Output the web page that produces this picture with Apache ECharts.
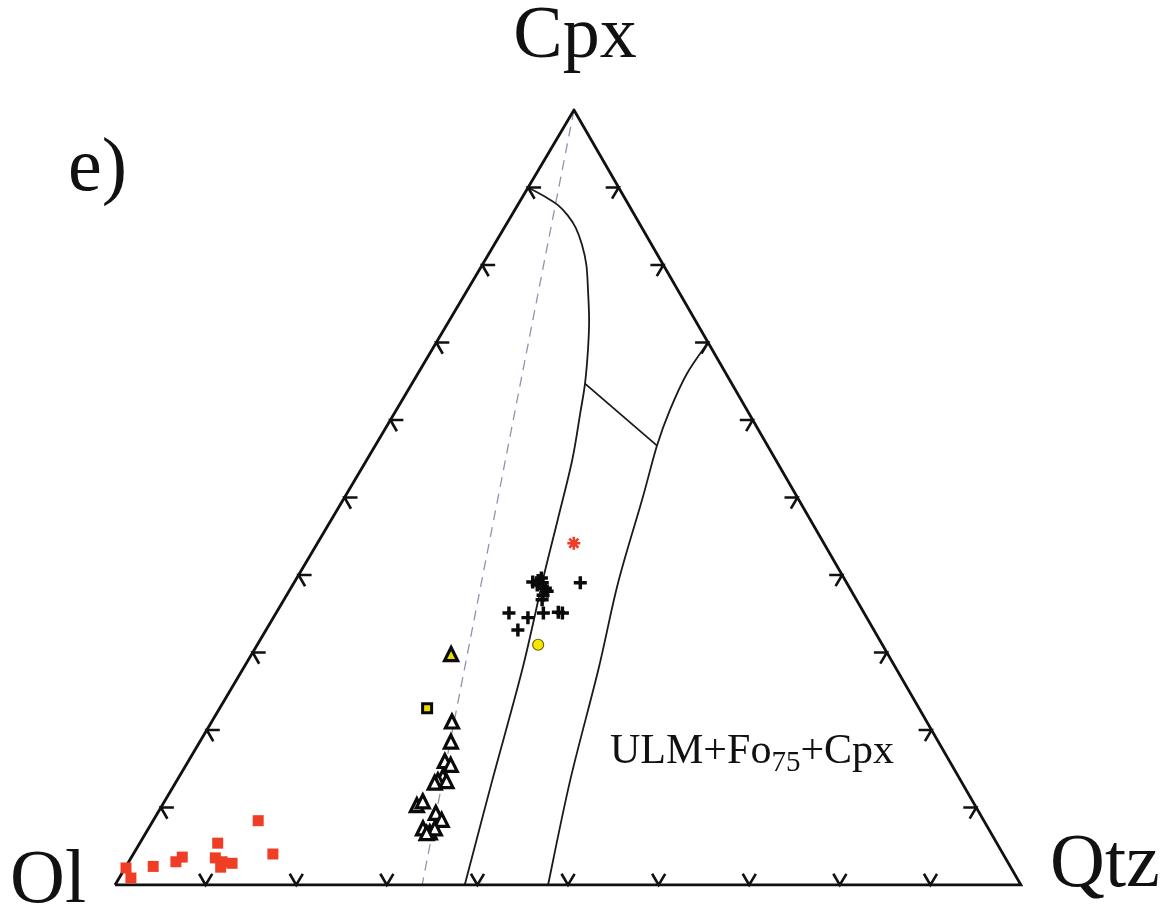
<!DOCTYPE html>
<html><head><meta charset="utf-8">
<script src="https://cdn.jsdelivr.net/npm/echarts@6/dist/echarts.min.js"></script>
<style>html,body{margin:0;padding:0;background:#fff}#c{width:1172px;height:919px}</style>
</head><body><div id="c"></div><script>
// All compositions are ternary [Ol, Qtz, Cpx] in percent
const vertexLabels = ['Ol', 'Qtz', 'Cpx'];
const panelLabel = 'e)';
const tickValues = [10, 20, 30, 40, 50, 60, 70, 80, 90];

const redSquares = [
  [97.7, 0.1, 2.2], [97.8, 1.3, 0.9], [94.6, 3.0, 2.4], [91.8, 5.2, 3.0], [90.8, 5.6, 3.6],
  [86.0, 8.6, 5.4], [87.2, 9.3, 3.5], [86.7, 10.3, 3.0], [87.2, 10.5, 2.3], [85.7, 11.5, 2.8],
  [80.1, 11.6, 8.3], [80.6, 15.4, 4.0]
];
const openTriangles = [
  [52.4, 26.5, 21.1], [53.8, 27.7, 18.5], [55.7, 28.3, 16.0], [55.3, 29.2, 15.5],
  [56.9, 29.1, 14.0], [57.7, 28.8, 13.5], [58.2, 28.6, 13.2], [56.8, 29.8, 13.4],
  [61.6, 28.1, 10.3], [60.7, 28.5, 10.8], [60.0, 30.7, 9.3], [59.8, 31.8, 8.4],
  [62.4, 30.3, 7.3], [61.9, 31.3, 6.8], [61.1, 31.6, 7.3], [62.3, 31.0, 6.7]
];
const yellowTriangle = [[48.2, 22.0, 29.8]];
const yellowSquare = [[54.3, 22.9, 22.8]];
const crosses = [
  [39.2, 25.7, 35.1], [39.3, 27.8, 32.9], [37.4, 28.1, 34.5], [35.4, 29.5, 35.1],
  [33.7, 31.1, 35.2], [33.3, 31.6, 35.1], [29.4, 31.6, 39.0],
  [34.6, 26.3, 39.1], [33.9, 26.8, 39.3], [33.6, 27.4, 39.0], [33.6, 28.1, 38.3],
  [33.6, 28.5, 37.9], [34.3, 28.3, 37.4], [34.7, 28.5, 36.8], [34.3, 27.0, 38.7],
  [33.4, 27.0, 39.6]
];
const redAsterisk = [[27.6, 28.3, 44.1]];
const yellowCircle = [[38.0, 31.0, 31.0]];

const dashedJoin = [[0, 0, 100], [66.1, 33.9, 0]];
const boundaryLeft = [
  [10.0, 0.0, 90.0], [8.7, 2.5, 88.8], [7.8, 4.5, 87.7], [7.4, 6.2, 86.4], [7.3, 7.9, 84.8],
  [7.7, 9.7, 82.6], [8.5, 11.5, 80.0], [9.9, 13.3, 76.8], [11.7, 15.4, 72.9], [13.7, 17.2, 69.1],
  [16.2, 19.1, 64.7], [18.6, 20.5, 60.9], [22.5, 22.7, 54.8], [27.9, 25.0, 47.1], [33.4, 27.3, 39.3],
  [41.4, 30.9, 27.7], [51.7, 34.8, 13.5], [61.4, 38.6, 0.0]
];
const boundaryTie = [[16.2, 19.1, 64.7], [12.2, 31.1, 56.7]];
const boundaryRight = [
  [0.0, 30.0, 70.0], [4.3, 29.7, 66.0], [8.5, 30.2, 61.3], [12.2, 31.1, 56.7], [17.3, 33.0, 49.7],
  [25.3, 35.8, 38.9], [33.0, 39.3, 27.7], [43.1, 43.4, 13.5], [52.2, 47.8, 0.0]
];
const fieldLabel = ['ULM+Fo', '75', '+Cpx'];

// --- projection of ternary composition to the (hidden) cartesian axes ---
const apexShift = 0.5066;
function toXY(t) { return [t[1] + t[2] * apexShift, t[2]]; }
const proj = arr => arr.map(toXY);

const outline = proj([[100, 0, 0], [0, 100, 0], [0, 0, 100], [100, 0, 0]]);
const tickData = [];
tickValues.forEach(v => {
  tickData.push(toXY([100 - v, v, 0]).concat([0]));
  tickData.push(toXY([100 - v, 0, v]).concat([1]));
  tickData.push(toXY([0, 100 - v, v]).concat([2]));
});
const curves = [boundaryLeft, boundaryRight];
const curveData = curves.map((c, i) => toXY(c[0]).concat([i]));

function unit(p, q) { const dx = q[0] - p[0], dy = q[1] - p[1]; const l = Math.hypot(dx, dy); return [dx / l, dy / l]; }
// Catmull-Rom through the pixel points, as an SVG path
function splinePath(p) {
  let d = 'M' + p[0][0].toFixed(2) + ',' + p[0][1].toFixed(2);
  for (let i = 0; i < p.length - 1; i++) {
    const p0 = p[Math.max(i - 1, 0)], p1 = p[i], p2 = p[i + 1], p3 = p[Math.min(i + 2, p.length - 1)];
    const c1 = [p1[0] + (p2[0] - p0[0]) / 6, p1[1] + (p2[1] - p0[1]) / 6];
    const c2 = [p2[0] - (p3[0] - p1[0]) / 6, p2[1] - (p3[1] - p1[1]) / 6];
    d += 'C' + c1[0].toFixed(2) + ',' + c1[1].toFixed(2) + ' ' + c2[0].toFixed(2) + ',' + c2[1].toFixed(2) + ' ' + p2[0].toFixed(2) + ',' + p2[1].toFixed(2);
  }
  return d;
}

const serif = '"Liberation Serif", "Times New Roman", serif';
const chart = echarts.init(document.getElementById('c'), null, { renderer: 'canvas' });
const lineBase = { type: 'line', symbol: 'none', silent: true, animation: false };
const red = '#f03d26';

chart.setOption({
  animation: false,
  backgroundColor: '#fff',
  grid: { left: 115, top: 110, width: 906, height: 775 },
  xAxis: { type: 'value', min: 0, max: 100, show: false },
  yAxis: { type: 'value', min: 0, max: 100, show: false },
  series: [
    Object.assign({}, lineBase, { name: 'dashed', data: proj(dashedJoin), z: 1,
      lineStyle: { color: '#8a95b0', width: 1.3, type: [10, 7] } }),
    {
      type: 'custom', name: 'boundaries', coordinateSystem: 'cartesian2d', silent: true, z: 2,
      data: curveData,
      renderItem: function (params, api) {
        const pts = curves[api.value(2)].map(t => api.coord(toXY(t)));
        return { type: 'path', shape: { pathData: splinePath(pts) },
          style: { stroke: '#1a1a1a', lineWidth: 1.8, fill: 'none' } };
      }
    },
    Object.assign({}, lineBase, { name: 'boundaryTie', data: proj(boundaryTie), z: 2,
      lineStyle: { color: '#1a1a1a', width: 1.8 } }),
    Object.assign({}, lineBase, { name: 'outline', data: outline, z: 3,
      lineStyle: { color: '#111', width: 2.8, join: 'miter' } }),
    {
      type: 'custom', name: 'ticks', coordinateSystem: 'cartesian2d', silent: true, z: 3,
      data: tickData,
      renderItem: function (params, api) {
        const P = api.coord([api.value(0), api.value(1)]);
        const A = api.coord(toXY([100, 0, 0])), B = api.coord(toXY([0, 100, 0])), C = api.coord(toXY([0, 0, 100]));
        const e = api.value(2);
        let d1, d2;
        if (e === 0) { d1 = unit(A, C); d2 = unit(B, C); }
        else if (e === 1) { d1 = unit(A, B); d2 = unit(C, B); }
        else { d1 = unit(B, A); d2 = unit(C, A); }
        const L = 13;
        return {
          type: 'polyline',
          shape: { points: [[P[0] + L * d1[0], P[1] + L * d1[1]], P, [P[0] + L * d2[0], P[1] + L * d2[1]]] },
          style: { stroke: '#111', lineWidth: 2.6, fill: null }
        };
      }
    },
    { type: 'scatter', name: 'Ol-rich', data: proj(redSquares), symbol: 'rect', symbolSize: 11, z: 5,
      itemStyle: { color: red, opacity: 1 } },
    { type: 'scatter', name: 'triangles', data: proj(openTriangles), symbol: 'triangle', symbolSize: 13, z: 5,
      itemStyle: { color: '#fff', borderColor: '#0a0a0a', borderWidth: 3.2, opacity: 1 } },
    { type: 'scatter', name: 'yellowTriangle', data: proj(yellowTriangle), symbol: 'triangle', symbolSize: 13, z: 5,
      itemStyle: { color: '#e8dc00', borderColor: '#0a0a0a', borderWidth: 3.2, opacity: 1 } },
    { type: 'scatter', name: 'yellowSquare', data: proj(yellowSquare), symbol: 'rect', symbolSize: 9, z: 5,
      itemStyle: { color: '#e8dc00', borderColor: '#0a0a0a', borderWidth: 3, opacity: 1 } },
    { type: 'scatter', name: 'crosses', data: proj(crosses),
      symbol: 'path://M4.4,0h3.2v4.4h4.4v3.2h-4.4v4.4h-3.2v-4.4h-4.4v-3.2h4.4z', symbolSize: 13, z: 5,
      itemStyle: { color: '#0a0a0a', opacity: 1 } },
    { type: 'scatter', name: 'asterisk', data: proj(redAsterisk),
      symbol: 'path://M5,0L5,10M0,5L10,5M1.5,1.5L8.5,8.5M8.5,1.5L1.5,8.5', symbolSize: 13, z: 5,
      itemStyle: { color: 'rgba(0,0,0,0)', borderColor: red, borderWidth: 2.6, opacity: 1 } },
    { type: 'scatter', name: 'circle', data: proj(yellowCircle), symbol: 'circle', symbolSize: 11, z: 5,
      itemStyle: { color: '#f5e800', borderColor: '#6e6400', borderWidth: 1.2, opacity: 1 } }
  ],
  graphic: [
    { type: 'text', x: 575, y: 38, silent: true,
      style: { text: vertexLabels[2], font: '74px ' + serif, fill: '#111', align: 'center', verticalAlign: 'middle' } },
    { type: 'text', x: 10, y: 882, silent: true,
      style: { text: vertexLabels[0], font: '76px ' + serif, fill: '#111', align: 'left', verticalAlign: 'middle' } },
    { type: 'text', x: 1050, y: 866, silent: true,
      style: { text: vertexLabels[1], font: '76px ' + serif, fill: '#111', align: 'left', verticalAlign: 'middle' } },
    { type: 'text', x: 68, y: 170, silent: true,
      style: { text: panelLabel, font: '76px ' + serif, fill: '#111', align: 'left', verticalAlign: 'middle' } },
    { type: 'text', x: 610, y: 752, silent: true,
      style: {
        text: '{a|' + fieldLabel[0] + '}{b|' + fieldLabel[1] + '}{a|' + fieldLabel[2] + '}',
        align: 'left', verticalAlign: 'middle',
        rich: {
          a: { fontFamily: serif, fontSize: 42, fill: '#111', color: '#111', lineHeight: 52, verticalAlign: 'middle' },
          b: { fontFamily: serif, fontSize: 29, fill: '#111', color: '#111', lineHeight: 29, padding: [20, 0, 0, 0], verticalAlign: 'bottom' }
        }
      } }
  ]
});
</script></body></html>
